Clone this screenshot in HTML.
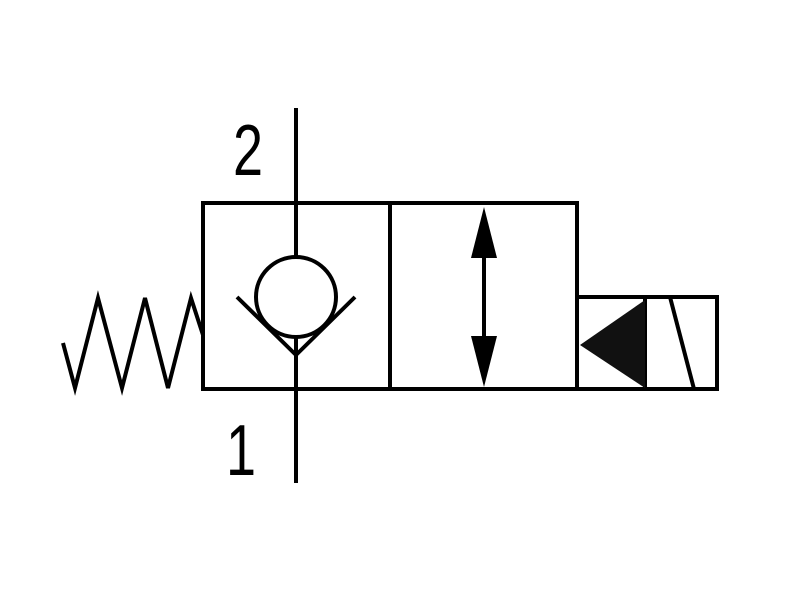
<!DOCTYPE html>
<html><head><style>body{margin:0;background:#fff}svg{display:block}</style></head>
<body>
<svg width="800" height="600" viewBox="0 0 800 600" xmlns="http://www.w3.org/2000/svg">
<rect width="800" height="600" fill="#fff"/>
<g stroke="#000" stroke-width="4" fill="none" stroke-linejoin="miter">
<rect x="203" y="203" width="374" height="186"/>
<line x1="390" y1="203" x2="390" y2="389"/>
<rect x="577" y="297" width="140" height="92"/>
<line x1="296" y1="108" x2="296" y2="257"/>
<line x1="296" y1="337" x2="296" y2="483"/>
<circle cx="296" cy="297" r="40"/>
<polyline points="237,297 296,355 355,297"/>
<polyline points="63,343 75,388 98,298 122,388 145,298 168,388 191,298 203,335"/>
<line x1="645" y1="297" x2="645" y2="389"/>
<line x1="670" y1="297" x2="694" y2="389"/>
<line x1="484" y1="240" x2="484" y2="355"/>
</g>
<polygon points="580,345 645,300 645,388" fill="#111"/>
<polygon points="484,207 471,258 497,258" fill="#000"/>
<polygon points="484,387 471,336 497,336" fill="#000"/>
<text transform="translate(233,175) scale(0.75,1)" font-family="Liberation Sans, sans-serif" font-size="72" fill="#000">2</text>
<text transform="translate(226,475) scale(0.75,1)" font-family="Liberation Sans, sans-serif" font-size="72" fill="#000">1</text>
</svg>
</body></html>
